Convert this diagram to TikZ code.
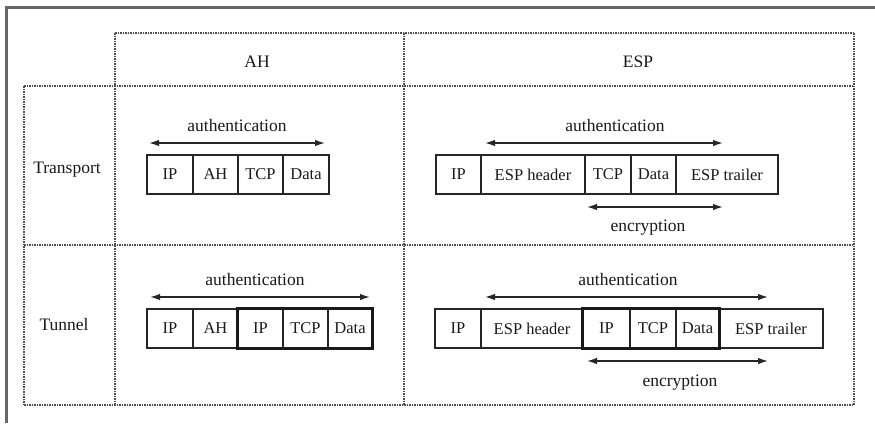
\documentclass[tikz,border=0pt]{standalone}
\usepackage{fontspec}
\setmainfont{Liberation Serif}
\usetikzlibrary{arrows.meta}
\begin{document}
\begin{tikzpicture}[x=1pt,y=-1pt,
  grid/.style={densely dotted, line width=1.5pt, draw=black!70},
  frameline/.style={line width=3pt, draw=black!60},
  cell/.style={draw=black!85, line width=1.4pt, inner sep=0pt, minimum height=39pt, font=\fontsize{16.5}{18}\selectfont, text=black!90},
  grp/.style={draw=black!90, line width=2.5pt},
  lbl/.style={font=\fontsize{17.5}{19}\selectfont, text=black!90, inner sep=0pt},
  span/.style={{Latex[length=10pt,width=6.5pt]}-{Latex[length=10pt,width=6.5pt]}, line width=1.4pt, draw=black!85}]
\useasboundingbox (0,0) rectangle (875,423);
\fill[white] (0,0) rectangle (875,423);
% outer screenshot frame
\draw[frameline] (6,423) -- (6,7) -- (875,7);
% table grid
\draw[grid] (115,33) -- (854,33);
\draw[grid] (24,86) -- (854,86);
\draw[grid] (24,245) -- (854,245);
\draw[grid] (24,405) -- (854,405);
\draw[grid] (24,86) -- (24,405);
\draw[grid] (115,33) -- (115,405);
\draw[grid] (404,33) -- (404,405);
\draw[grid] (854,33) -- (854,405);
% headers
\node[lbl] (hAH) at (257,62) {AH};
\node[lbl] (hESP) at (638,62) {ESP};
\node[lbl] (hTr) at (67,170) {Transport};
\node[lbl] (hTu) at (64,325) {Tunnel};
% AH transport
\node[cell, minimum width=46pt] (a1) at (170,174.5) {IP};
\node[cell, minimum width=45pt] (a2) at (215.5,174.5) {AH};
\node[cell, minimum width=45pt] (a3) at (260.5,174.5) {TCP};
\node[cell, minimum width=46pt] (a4) at (306,174.5) {Data};
\coordinate (a5l) at (149,143); \coordinate (a5r) at (325,143);
\draw[span] (a5l) -- (a5r);
\node[lbl] (aAuth) at (237,126) {authentication};
% ESP transport
\node[cell, minimum width=45pt] (e1) at (458.5,174.5) {IP};
\node[cell, minimum width=104pt] (e2) at (533,174.5) {ESP header};
\node[cell, minimum width=46pt] (e3) at (608,174.5) {TCP};
\node[cell, minimum width=45pt] (e4) at (653.5,174.5) {Data};
\node[cell, minimum width=102pt] (e5) at (727,174.5) {ESP trailer};
\coordinate (eAl) at (485,143); \coordinate (eAr) at (723,143);
\draw[span] (eAl) -- (eAr);
\node[lbl] (eAuth) at (615,126) {authentication};
\coordinate (eEl) at (587,207); \coordinate (eEr) at (723,207);
\draw[span] (eEl) -- (eEr);
\node[lbl] (eEnc) at (648,228) {encryption};
% AH tunnel
\node[cell, minimum width=46pt] (b1) at (170,328.5) {IP};
\node[cell, minimum width=45pt] (b2) at (215.5,328.5) {AH};
\node[cell, minimum width=45pt] (b3) at (260.5,328.5) {IP};
\node[cell, minimum width=45pt] (b4) at (305.5,328.5) {TCP};
\node[cell, minimum width=44pt] (b5) at (350,328.5) {Data};
\draw[grp] (b3.north west) rectangle (b5.south east);
\coordinate (bAl) at (150,297); \coordinate (bAr) at (370,297);
\draw[span] (bAl) -- (bAr);
\node[lbl] (bAuth) at (255,280) {authentication};
% ESP tunnel
\node[cell, minimum width=46pt] (f1) at (458,328.5) {IP};
\node[cell, minimum width=102pt] (f2) at (532,328.5) {ESP header};
\node[cell, minimum width=47pt] (f3) at (606.5,328.5) {IP};
\node[cell, minimum width=46pt] (f4) at (653,328.5) {TCP};
\node[cell, minimum width=43pt] (f5) at (697.5,328.5) {Data};
\node[cell, minimum width=104pt] (f6) at (771,328.5) {ESP trailer};
\draw[grp] (f3.north west) rectangle (f5.south east);
\coordinate (fAl) at (485,297); \coordinate (fAr) at (768,297);
\draw[span] (fAl) -- (fAr);
\node[lbl] (fAuth) at (628,280) {authentication};
\coordinate (fEl) at (587,361); \coordinate (fEr) at (768,361);
\draw[span] (fEl) -- (fEr);
\node[lbl] (fEnc) at (680,383) {encryption};
\end{tikzpicture}
\end{document}
